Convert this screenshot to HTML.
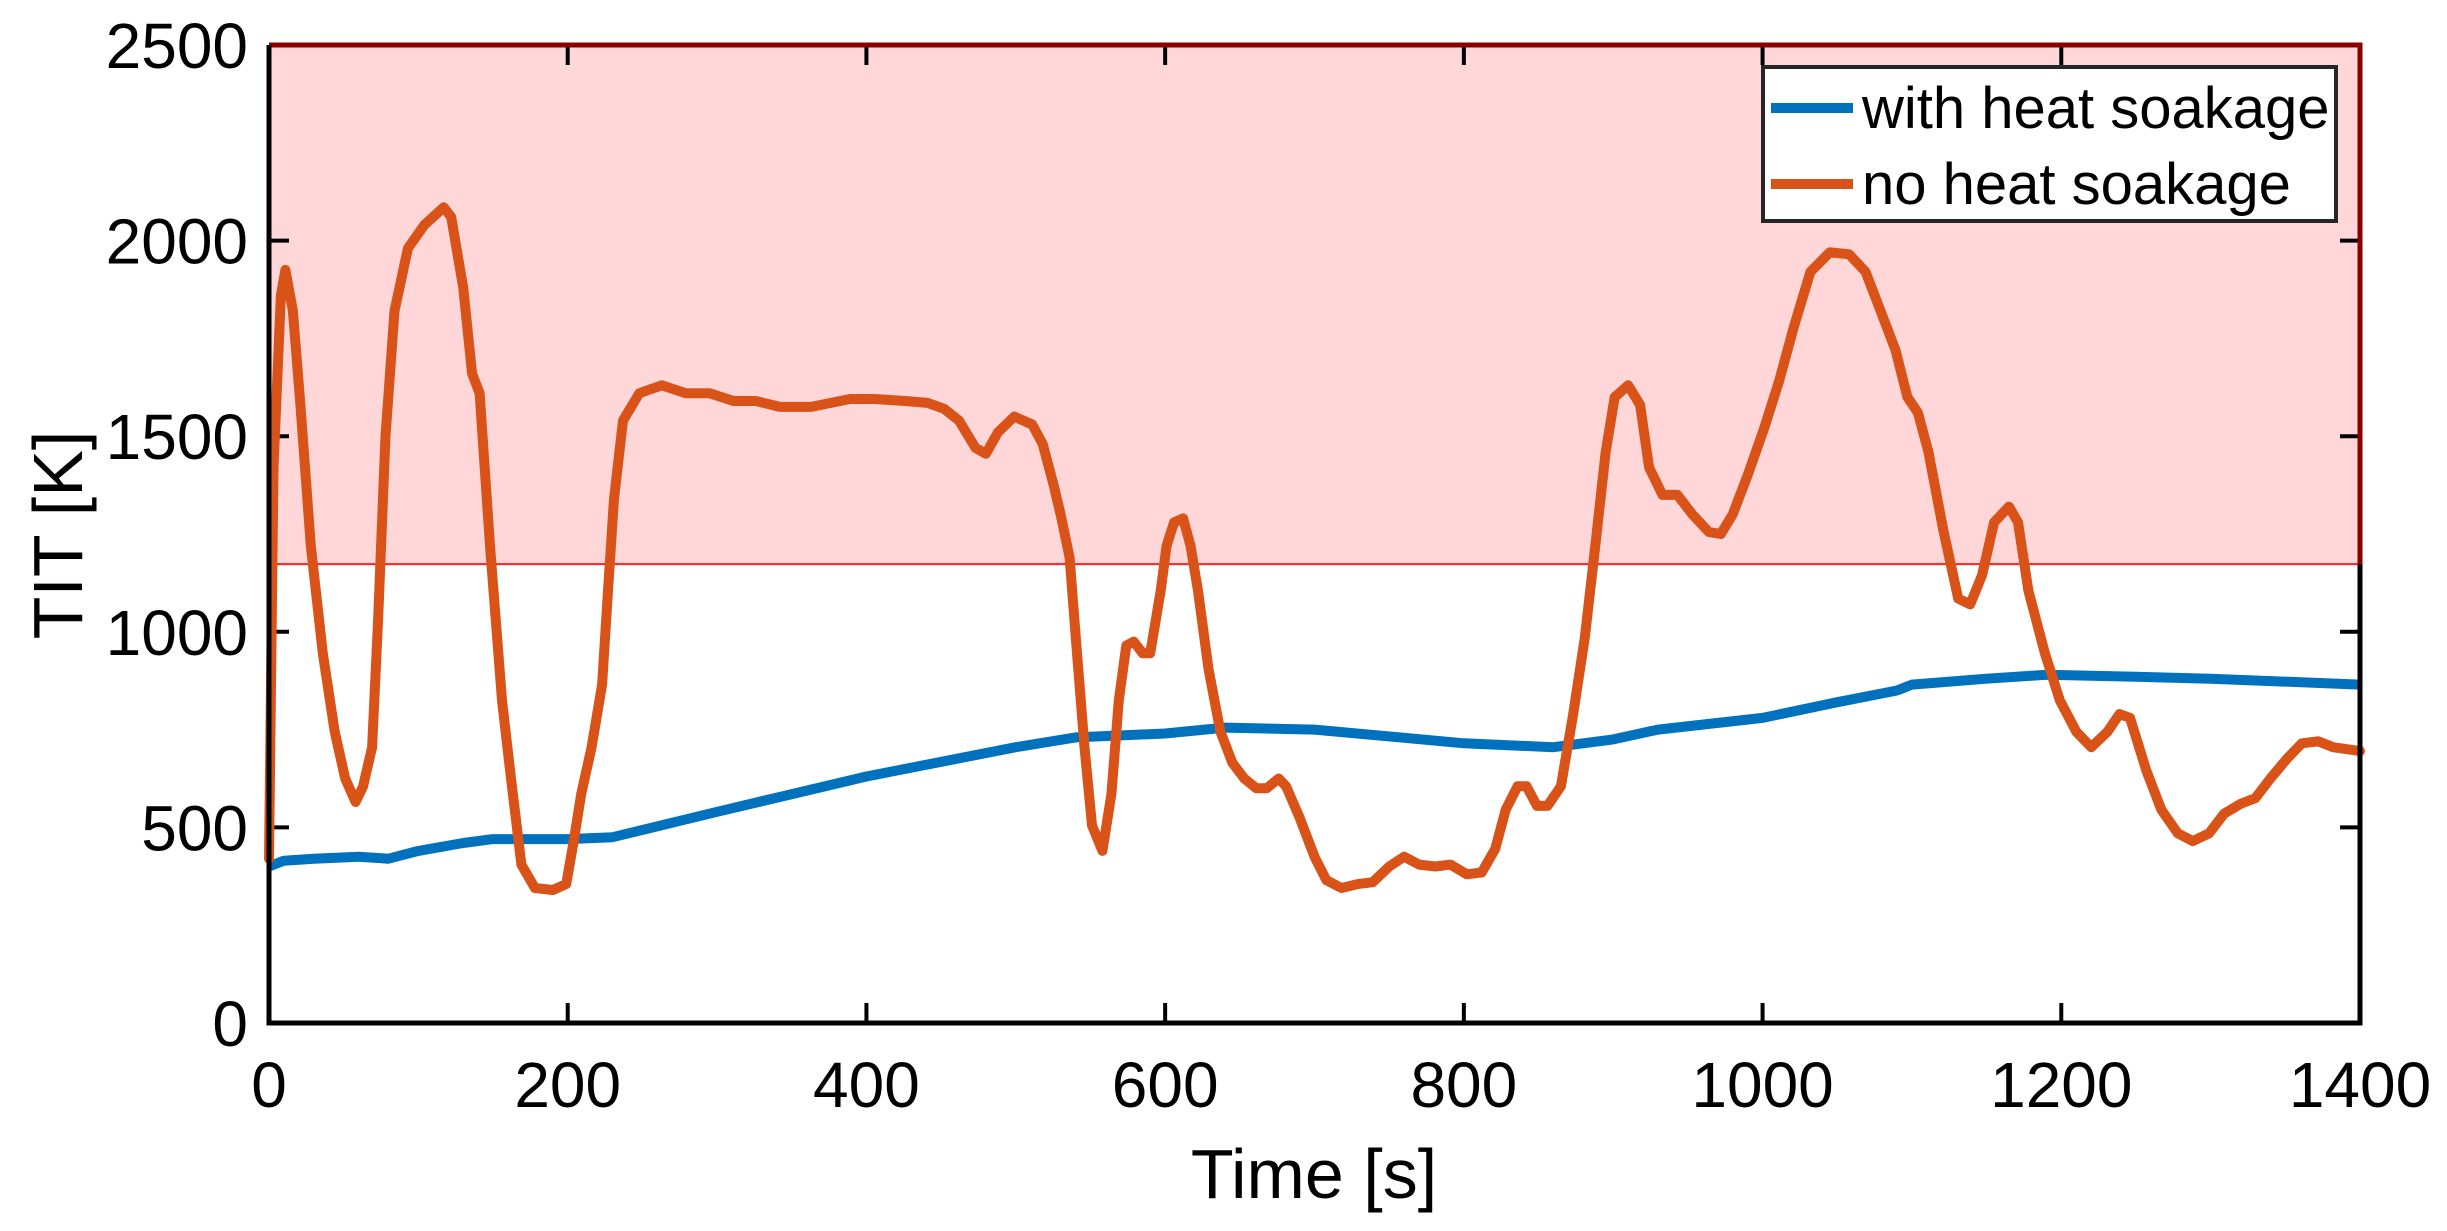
<!DOCTYPE html>
<html><head><meta charset="utf-8">
<style>
html,body{margin:0;padding:0;background:#fff;}
svg{display:block;font-family:"Liberation Sans",Arial,sans-serif;}
</style></head>
<body>
<svg id="chart" width="2447" height="1231" viewBox="0 0 2447 1231" xmlns="http://www.w3.org/2000/svg"></svg>
<script>
const xTicks=[0,200,400,600,800,1000,1200,1400];
const yTicks=[0,500,1000,1500,2000,2500];
const limitValue=1173;
const blueT=[0,10,30,60,80,100,130,150,200,230,300,400,500,540,600,640,700,800,860,900,930,1000,1050,1090,1100,1150,1190,1250,1300,1400];
const blueV=[400,415,420,425,420,440,460,470,470,475,540,630,705,730,740,755,750,715,705,725,750,780,820,850,865,880,890,885,880,865];
const orangeT=[0,3,8,11,16,21,28,36,44,51,58,63,69,73,78,84,93,104,117,122,130,136,141,148,156,162,169,178,190,199,204,209,216,223,227,231,237,248,263,279,295,311,326,342,363,389,405,426,441,452,462,473,480,488,499,511,518,525,530,536,541,546,551,558,564,569,574,579,585,590,597,601,606,612,617,622,629,637,645,653,661,668,676,681,690,700,708,718,729,739,750,760,770,781,791,802,812,821,828,836,842,849,856,865,873,881,888,895,901,910,918,924,933,943,953,964,972,980,990,1001,1011,1021,1032,1045,1058,1069,1079,1089,1097,1104,1111,1121,1131,1139,1147,1155,1165,1171,1178,1189,1199,1210,1220,1231,1239,1246,1257,1267,1278,1288,1299,1309,1320,1330,1340,1351,1361,1372,1382,1400];
const orangeV=[420,1420,1860,1925,1820,1580,1220,945,745,625,565,605,705,1025,1500,1820,1980,2040,2085,2060,1880,1660,1610,1220,825,625,405,345,340,355,465,585,705,865,1105,1340,1540,1610,1630,1610,1610,1590,1590,1575,1575,1595,1595,1590,1585,1570,1540,1470,1455,1510,1550,1530,1480,1380,1300,1190,945,705,505,440,585,825,965,975,945,945,1105,1220,1280,1290,1220,1105,905,745,665,625,600,600,625,605,525,425,365,345,355,360,400,425,405,400,405,380,385,445,545,605,605,555,555,605,785,985,1220,1460,1600,1630,1580,1420,1350,1350,1300,1255,1250,1300,1400,1520,1640,1780,1920,1970,1965,1920,1820,1720,1600,1560,1460,1260,1085,1070,1145,1280,1320,1280,1105,945,825,745,705,745,790,780,645,545,485,465,485,535,560,575,625,675,715,720,705,695];

const L=269,R=2360,T=45,B=1023;
const X=t=>L+(t-0)/(1400-0)*(R-L);
const Y=v=>B-(v-0)/(2500-0)*(B-T);
const svg=document.getElementById('chart');
const NS='http://www.w3.org/2000/svg';
function mk(tag,attrs,parent){const e=document.createElementNS(NS,tag);for(const k in attrs)e.setAttribute(k,attrs[k]);(parent||svg).appendChild(e);return e;}

let e;
e=mk('rect',{x:L,y:T,width:R-L,height:Y(limitValue)-T,fill:'#ffd7d9'});


e=mk('line',{x1:L,x2:R,y1:Y(limitValue),y2:Y(limitValue),stroke:'#ff2020','stroke-width':2});



xTicks.forEach(t=>{
  e=mk('line',{x1:X(t),x2:X(t),y1:B,y2:B-20,stroke:'#000','stroke-width':4});
  
  
  e=mk('line',{x1:X(t),x2:X(t),y1:T,y2:T+20,stroke:'#000','stroke-width':4});
  
  
  e=mk('text',{x:X(t),y:1107,'font-size':64,'text-anchor':'middle',fill:'#000'});
  e.textContent=t;
  
  
});
yTicks.forEach(v=>{
  e=mk('line',{x1:L,x2:L+20,y1:Y(v),y2:Y(v),stroke:'#000','stroke-width':4});
  
  
  e=mk('line',{x1:R,x2:R-20,y1:Y(v),y2:Y(v),stroke:'#000','stroke-width':4});
  
  
  e=mk('text',{x:248,y:Y(v)+23,'font-size':64,'text-anchor':'end',fill:'#000'});
  e.textContent=v;
  
  
});

function path(ts,vs){return ts.map((t,i)=>(i?'L':'M')+X(t).toFixed(1)+','+Y(vs[i]).toFixed(1)).join(' ');}
e=mk('path',{d:path(blueT,blueV),fill:'none',stroke:'#0072bd','stroke-width':10,'stroke-linejoin':'round'});


e=mk('path',{d:path(orangeT,orangeV),fill:'none',stroke:'#d95319','stroke-width':10,'stroke-linejoin':'round','stroke-linecap':'round'});



e=mk('path',{d:`M${L},${T} L${R},${T} L${R},${Y(limitValue)}`,fill:'none',stroke:'#8b0000','stroke-width':5});


e=mk('path',{d:`M${L},${T} L${L},${B} L${R},${B} L${R},${Y(limitValue)}`,fill:'none',stroke:'#000','stroke-width':5});



const lg=mk('g',{});


mk('rect',{x:1763,y:67,width:573,height:154,fill:'#fff',stroke:'#262626','stroke-width':4},lg);
e=mk('line',{x1:1771,x2:1853,y1:108,y2:108,stroke:'#0072bd','stroke-width':10},lg);


e=mk('text',{x:1862,y:128,'font-size':58,fill:'#000'},lg);
e.textContent='with heat soakage';


e=mk('line',{x1:1771,x2:1853,y1:184,y2:184,stroke:'#d95319','stroke-width':10},lg);


e=mk('text',{x:1862,y:204,'font-size':58,fill:'#000'},lg);
e.textContent='no heat soakage';



e=mk('text',{x:1314,y:1198,'font-size':70,'text-anchor':'middle',fill:'#000'});
e.textContent='Time [s]';


e=mk('text',{x:0,y:0,'font-size':70,'text-anchor':'middle',fill:'#000',transform:'translate(82,535) rotate(-90)'});
e.textContent='TIT [K]';


</script>
</body></html>
